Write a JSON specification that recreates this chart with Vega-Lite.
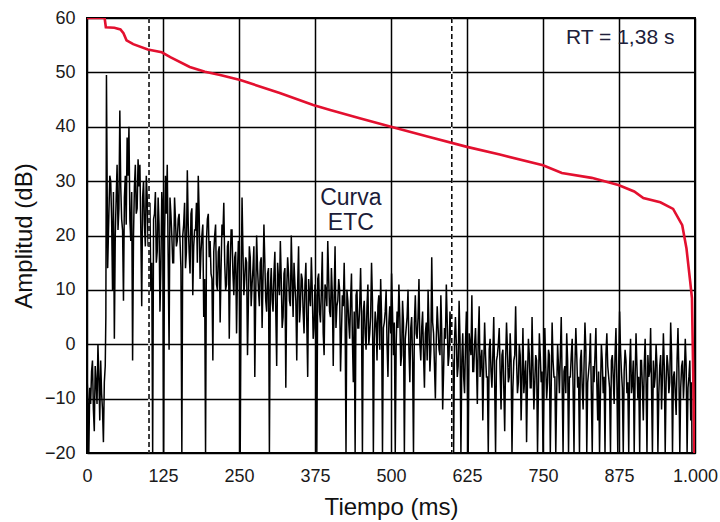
{
  "$schema": "https://vega.github.io/schema/vega-lite/v6.json",
  "width": 608,
  "height": 435,
  "autosize": {"type": "none"},
  "padding": {"left": 87, "top": 18, "right": 25, "bottom": 69},
  "background": "white",
  "config": {
    "view": {"stroke": "#000", "strokeWidth": 2},
    "font": "Liberation Sans",
    "axis": {"gridColor": "#000", "gridWidth": 1.5, "gridOpacity": 1, "ticks": false, "domain": false, "labelFont": "Liberation Sans", "titleFont": "Liberation Sans", "titleFontWeight": "normal", "labelColor": "#1a1a1a", "titleColor": "#111"}
  },
  "datasets": {
    "etc": [
      {"t":0,"a":-6},{"t":3,"a":-20},{"t":6,"a":-11},{"t":9,"a":-3},{"t":12,"a":-16},{"t":15,"a":-7},{"t":18,"a":0},{"t":21,"a":-14},{"t":24,"a":-9},{"t":27,"a":-18},{"t":30,"a":-4},{"t":31,"a":5},{"t":32,"a":49.5},{"t":34,"a":14},{"t":36,"a":24},
      {"t":39,"a":30},{"t":42,"a":10},{"t":45,"a":1},{"t":48,"a":27},{"t":51,"a":21},{"t":54,"a":43},{"t":57,"a":23},{"t":60,"a":8},{"t":63,"a":31},{"t":66,"a":38},{"t":69,"a":40},{"t":72,"a":19},{"t":75,"a":-3},{"t":78,"a":29},{"t":81,"a":24},{"t":84,"a":34},{"t":87,"a":33},{"t":90,"a":7},{"t":93,"a":30},{"t":96,"a":18},{"t":99,"a":27},
      {"t":102,"a":22},{"t":105,"a":10},{"t":108,"a":-20},{"t":111,"a":24},{"t":114,"a":15},{"t":117,"a":27},{"t":120,"a":6},{"t":123,"a":28},{"t":126,"a":-20},{"t":129,"a":31},{"t":132,"a":33},{"t":135,"a":-1},{"t":138,"a":24},{"t":141,"a":15},{"t":144,"a":27},{"t":147,"a":18},{"t":150,"a":23},
      {"t":153,"a":19},{"t":156,"a":-20},{"t":159,"a":22},{"t":162,"a":14},{"t":165,"a":32},{"t":168,"a":17},{"t":171,"a":24},{"t":174,"a":9},{"t":177,"a":21},{"t":180,"a":26},{"t":183,"a":31},{"t":186,"a":12},{"t":189,"a":20},{"t":192,"a":5},{"t":195,"a":-20},{"t":198,"a":23},{"t":201,"a":16},
      {"t":204,"a":13},{"t":207,"a":-3},{"t":210,"a":20},{"t":213,"a":11},{"t":216,"a":17},{"t":219,"a":4},{"t":222,"a":22},{"t":225,"a":26},{"t":228,"a":10},{"t":231,"a":18},{"t":234,"a":1},{"t":237,"a":21},{"t":240,"a":13},{"t":243,"a":16},{"t":246,"a":2},{"t":249,"a":19},{"t":252,"a":-20},
      {"t":255,"a":27},{"t":258,"a":9},{"t":261,"a":16},{"t":264,"a":-2},{"t":267,"a":18},{"t":270,"a":7},{"t":273,"a":14},{"t":276,"a":-6},{"t":279,"a":20},{"t":282,"a":10},{"t":285,"a":15},{"t":288,"a":3},{"t":291,"a":22},{"t":294,"a":8},{"t":297,"a":13},{"t":300,"a":-20},
      {"t":303,"a":14},{"t":306,"a":6},{"t":309,"a":17},{"t":312,"a":-4},{"t":315,"a":12},{"t":318,"a":19},{"t":321,"a":3},{"t":324,"a":13},{"t":327,"a":-8},{"t":330,"a":16},{"t":333,"a":8},{"t":336,"a":20},{"t":339,"a":5},{"t":342,"a":11},{"t":345,"a":-3},{"t":348,"a":18},{"t":351,"a":7},
      {"t":354,"a":12},{"t":357,"a":2},{"t":360,"a":15},{"t":363,"a":-6},{"t":366,"a":9},{"t":369,"a":16},{"t":372,"a":1},{"t":375,"a":11},{"t":378,"a":-20},{"t":381,"a":13},{"t":384,"a":4},{"t":387,"a":17},{"t":390,"a":-2},{"t":393,"a":10},{"t":396,"a":19},{"t":399,"a":6},{"t":402,"a":14},
      {"t":405,"a":-4},{"t":408,"a":18},{"t":411,"a":7},{"t":414,"a":12},{"t":417,"a":-5},{"t":420,"a":9},{"t":423,"a":15},{"t":426,"a":-20},{"t":429,"a":8},{"t":432,"a":1},{"t":435,"a":13},{"t":438,"a":-7},{"t":441,"a":-20},{"t":444,"a":10},{"t":447,"a":3},{"t":450,"a":14},
      {"t":453,"a":-20},{"t":456,"a":8},{"t":459,"a":-1},{"t":462,"a":11},{"t":465,"a":2},{"t":468,"a":15},{"t":471,"a":-20},{"t":474,"a":6},{"t":477,"a":-3},{"t":480,"a":9},{"t":483,"a":12},{"t":486,"a":-20},{"t":489,"a":4},{"t":492,"a":10},{"t":495,"a":-6},{"t":498,"a":7},{"t":501,"a":13},
      {"t":504,"a":-2},{"t":507,"a":-20},{"t":510,"a":6},{"t":513,"a":11},{"t":516,"a":-4},{"t":519,"a":8},{"t":522,"a":-20},{"t":525,"a":3},{"t":528,"a":10},{"t":531,"a":-7},{"t":534,"a":5},{"t":537,"a":-20},{"t":540,"a":9},{"t":543,"a":1},{"t":546,"a":12},{"t":549,"a":-3},{"t":552,"a":6},
      {"t":555,"a":-8},{"t":558,"a":4},{"t":561,"a":10},{"t":564,"a":-5},{"t":567,"a":16},{"t":570,"a":2},{"t":573,"a":-10},{"t":576,"a":7},{"t":579,"a":-1},{"t":582,"a":9},{"t":585,"a":-12},{"t":588,"a":3},{"t":591,"a":11},{"t":594,"a":-4},{"t":597,"a":6},{"t":600,"a":-2},{"t":603,"a":-20},
      {"t":606,"a":5},{"t":609,"a":-6},{"t":612,"a":8},{"t":615,"a":-20},{"t":618,"a":2},{"t":621,"a":-9},{"t":624,"a":6},{"t":627,"a":-20},{"t":630,"a":0},{"t":633,"a":9},{"t":636,"a":-5},{"t":639,"a":3},{"t":642,"a":-11},{"t":645,"a":7},{"t":648,"a":-3},{"t":651,"a":-14},
      {"t":654,"a":4},{"t":657,"a":-6},{"t":660,"a":-20},{"t":663,"a":1},{"t":666,"a":-8},{"t":669,"a":5},{"t":672,"a":-20},{"t":675,"a":-2},{"t":678,"a":3},{"t":681,"a":-12},{"t":684,"a":-1},{"t":687,"a":-16},{"t":690,"a":4},{"t":693,"a":-7},{"t":696,"a":2},{"t":699,"a":-20},{"t":702,"a":-3},
      {"t":705,"a":7},{"t":708,"a":-9},{"t":711,"a":0},{"t":714,"a":-14},{"t":717,"a":3},{"t":720,"a":-6},{"t":723,"a":-18},{"t":726,"a":1},{"t":729,"a":-8},{"t":732,"a":5},{"t":735,"a":-12},{"t":738,"a":-2},{"t":741,"a":-20},{"t":744,"a":2},{"t":747,"a":-7},{"t":750,"a":-20},
      {"t":753,"a":3},{"t":756,"a":-10},{"t":759,"a":-1},{"t":762,"a":-20},{"t":765,"a":4},{"t":768,"a":-6},{"t":771,"a":-20},{"t":774,"a":0},{"t":777,"a":-9},{"t":780,"a":5},{"t":783,"a":-20},{"t":786,"a":-4},{"t":789,"a":2},{"t":792,"a":-20},{"t":795,"a":-6},{"t":798,"a":1},{"t":801,"a":-20},
      {"t":804,"a":3},{"t":807,"a":-8},{"t":810,"a":-20},{"t":813,"a":-1},{"t":816,"a":-12},{"t":819,"a":4},{"t":822,"a":-20},{"t":825,"a":-5},{"t":828,"a":2},{"t":831,"a":-20},{"t":834,"a":-7},{"t":837,"a":3},{"t":840,"a":-14},{"t":843,"a":-20},{"t":846,"a":0},{"t":849,"a":-9},{"t":852,"a":-20},
      {"t":855,"a":2},{"t":858,"a":-6},{"t":861,"a":-20},{"t":864,"a":-2},{"t":867,"a":-11},{"t":870,"a":3},{"t":873,"a":-20},{"t":876,"a":6},{"t":879,"a":-5},{"t":882,"a":-20},{"t":885,"a":-1},{"t":888,"a":-9},{"t":891,"a":-20},{"t":894,"a":1},{"t":897,"a":-7},{"t":900,"a":-20},{"t":903,"a":2},
      {"t":906,"a":-10},{"t":909,"a":-20},{"t":912,"a":-3},{"t":915,"a":-14},{"t":918,"a":1},{"t":921,"a":-20},{"t":924,"a":-6},{"t":927,"a":3},{"t":930,"a":-20},{"t":933,"a":-8},{"t":936,"a":0},{"t":939,"a":-20},{"t":942,"a":-4},{"t":945,"a":-12},{"t":948,"a":2},{"t":951,"a":-20},
      {"t":954,"a":-2},{"t":957,"a":-9},{"t":960,"a":4},{"t":963,"a":-20},{"t":966,"a":-5},{"t":969,"a":-13},{"t":972,"a":3},{"t":975,"a":-20},{"t":978,"a":-4},{"t":981,"a":-10},{"t":984,"a":1},{"t":987,"a":-20},{"t":990,"a":-6},{"t":993,"a":-14},{"t":995,"a":-20},
      {"t":1.5,"a":-10},{"t":4.5,"a":-8},{"t":7.5,"a":-5},{"t":10.5,"a":-12},{"t":13.5,"a":-4},{"t":16.5,"a":-11},{"t":19.5,"a":-6},{"t":22.5,"a":-3},{"t":25.5,"a":-12},{"t":28.5,"a":-7},
      {"t":37.5,"a":31},{"t":40.5,"a":23},{"t":43.5,"a":28},{"t":46.5,"a":20},{"t":49.5,"a":33},{"t":52.5,"a":25},{"t":55.5,"a":29},{"t":58.5,"a":21},{"t":61.5,"a":27},{"t":64.5,"a":22},{"t":67.5,"a":31},{"t":70.5,"a":23},{"t":73.5,"a":28},{"t":76.5,"a":20},{"t":79.5,"a":33},{"t":82.5,"a":25},{"t":85.5,"a":29},{"t":88.5,"a":21},{"t":91.5,"a":27},{"t":94.5,"a":22},{"t":97.5,"a":31},
      {"t":100.5,"a":18},{"t":103.5,"a":26},{"t":106.5,"a":15},{"t":109.5,"a":23},{"t":112.5,"a":28},{"t":115.5,"a":17},{"t":118.5,"a":22},{"t":121.5,"a":14},{"t":124.5,"a":25},{"t":127.5,"a":19},{"t":130.5,"a":24},{"t":133.5,"a":16},{"t":136.5,"a":27},{"t":139.5,"a":20},{"t":142.5,"a":15},{"t":145.5,"a":23},{"t":148.5,"a":19},
      {"t":151.5,"a":24},{"t":154.5,"a":14},{"t":157.5,"a":20},{"t":160.5,"a":26},{"t":163.5,"a":17},{"t":166.5,"a":22},{"t":169.5,"a":13},{"t":172.5,"a":25},{"t":175.5,"a":18},{"t":178.5,"a":21},{"t":181.5,"a":15},{"t":184.5,"a":24},{"t":187.5,"a":17},{"t":190.5,"a":22},{"t":193.5,"a":12},{"t":196.5,"a":19},{"t":199.5,"a":24},
      {"t":202.5,"a":19},{"t":205.5,"a":12},{"t":208.5,"a":17},{"t":211.5,"a":22},{"t":214.5,"a":10},{"t":217.5,"a":18},{"t":220.5,"a":14},{"t":223.5,"a":20},{"t":226.5,"a":15},{"t":229.5,"a":11},{"t":232.5,"a":19},{"t":235.5,"a":14},{"t":238.5,"a":21},{"t":241.5,"a":9},{"t":244.5,"a":17},{"t":247.5,"a":13},{"t":250.5,"a":18},
      {"t":253.5,"a":10},{"t":256.5,"a":17},{"t":259.5,"a":12},{"t":262.5,"a":15},{"t":265.5,"a":8},{"t":268.5,"a":16},{"t":271.5,"a":11},{"t":274.5,"a":18},{"t":277.5,"a":9},{"t":280.5,"a":14},{"t":283.5,"a":7},{"t":286.5,"a":16},{"t":289.5,"a":12},{"t":292.5,"a":15},{"t":295.5,"a":6},{"t":298.5,"a":14},{"t":301.5,"a":10},
      {"t":304.5,"a":8},{"t":307.5,"a":13},{"t":310.5,"a":6},{"t":313.5,"a":15},{"t":316.5,"a":9},{"t":319.5,"a":12},{"t":322.5,"a":5},{"t":325.5,"a":14},{"t":328.5,"a":10},{"t":331.5,"a":13},{"t":334.5,"a":7},{"t":337.5,"a":12},{"t":340.5,"a":15},{"t":343.5,"a":8},{"t":346.5,"a":11},{"t":349.5,"a":4},{"t":352.5,"a":13},
      {"t":355.5,"a":6},{"t":358.5,"a":11},{"t":361.5,"a":4},{"t":364.5,"a":12},{"t":367.5,"a":7},{"t":370.5,"a":10},{"t":373.5,"a":3},{"t":376.5,"a":9},{"t":379.5,"a":12},{"t":382.5,"a":6},{"t":385.5,"a":10},{"t":388.5,"a":2},{"t":391.5,"a":11},{"t":394.5,"a":7},{"t":397.5,"a":12},{"t":400.5,"a":5},{"t":403.5,"a":9},
      {"t":406.5,"a":9},{"t":409.5,"a":3},{"t":412.5,"a":8},{"t":415.5,"a":10},{"t":418.5,"a":2},{"t":421.5,"a":7},{"t":424.5,"a":5},{"t":427.5,"a":10},{"t":430.5,"a":4},{"t":433.5,"a":8},{"t":436.5,"a":1},{"t":439.5,"a":6},{"t":442.5,"a":9},{"t":445.5,"a":3},{"t":448.5,"a":7},{"t":451.5,"a":5},
      {"t":454.5,"a":6},{"t":457.5,"a":2},{"t":460.5,"a":7},{"t":463.5,"a":0},{"t":466.5,"a":5},{"t":469.5,"a":8},{"t":472.5,"a":1},{"t":475.5,"a":4},{"t":478.5,"a":7},{"t":481.5,"a":-1},{"t":484.5,"a":5},{"t":487.5,"a":3},{"t":490.5,"a":6},{"t":493.5,"a":0},{"t":496.5,"a":4},{"t":499.5,"a":2},{"t":502.5,"a":6},
      {"t":505.5,"a":4},{"t":508.5,"a":0},{"t":511.5,"a":3},{"t":514.5,"a":5},{"t":517.5,"a":-2},{"t":520.5,"a":4},{"t":523.5,"a":1},{"t":526.5,"a":5},{"t":529.5,"a":-1},{"t":532.5,"a":3},{"t":535.5,"a":-3},{"t":538.5,"a":4},{"t":541.5,"a":2},{"t":544.5,"a":5},{"t":547.5,"a":0},{"t":550.5,"a":3},{"t":553.5,"a":-2},
      {"t":556.5,"a":2},{"t":559.5,"a":-3},{"t":562.5,"a":3},{"t":565.5,"a":-1},{"t":568.5,"a":4},{"t":571.5,"a":-4},{"t":574.5,"a":1},{"t":577.5,"a":3},{"t":580.5,"a":-2},{"t":583.5,"a":2},{"t":586.5,"a":-5},{"t":589.5,"a":1},{"t":592.5,"a":4},{"t":595.5,"a":-2},{"t":598.5,"a":2},{"t":601.5,"a":-3},{"t":604.5,"a":1},
      {"t":607.5,"a":0},{"t":610.5,"a":-4},{"t":613.5,"a":1},{"t":616.5,"a":-3},{"t":619.5,"a":-6},{"t":622.5,"a":0},{"t":625.5,"a":-4},{"t":628.5,"a":2},{"t":631.5,"a":-2},{"t":634.5,"a":-5},{"t":637.5,"a":0},{"t":640.5,"a":-3},{"t":643.5,"a":1},{"t":646.5,"a":-6},{"t":649.5,"a":-1},{"t":652.5,"a":-4},
      {"t":655.5,"a":-2},{"t":658.5,"a":-6},{"t":661.5,"a":-1},{"t":664.5,"a":-5},{"t":667.5,"a":-2},{"t":670.5,"a":-7},{"t":673.5,"a":-3},{"t":676.5,"a":0},{"t":679.5,"a":-5},{"t":682.5,"a":-2},{"t":685.5,"a":-8},{"t":688.5,"a":-3},{"t":691.5,"a":-1},{"t":694.5,"a":-6},{"t":697.5,"a":-3},{"t":700.5,"a":-8},{"t":703.5,"a":-2},
      {"t":706.5,"a":-3},{"t":709.5,"a":-7},{"t":712.5,"a":-2},{"t":715.5,"a":-6},{"t":718.5,"a":-9},{"t":721.5,"a":-3},{"t":724.5,"a":-6},{"t":727.5,"a":-2},{"t":730.5,"a":-8},{"t":733.5,"a":-4},{"t":736.5,"a":-7},{"t":739.5,"a":-3},{"t":742.5,"a":-8},{"t":745.5,"a":-2},{"t":748.5,"a":-5},{"t":751.5,"a":-9},
      {"t":754.5,"a":-4},{"t":757.5,"a":-7},{"t":760.5,"a":-2},{"t":763.5,"a":-8},{"t":766.5,"a":-3},{"t":769.5,"a":-6},{"t":772.5,"a":-9},{"t":775.5,"a":-4},{"t":778.5,"a":-2},{"t":781.5,"a":-7},{"t":784.5,"a":-5},{"t":787.5,"a":-9},{"t":790.5,"a":-3},{"t":793.5,"a":-6},{"t":796.5,"a":-2},{"t":799.5,"a":-8},{"t":802.5,"a":-4},
      {"t":805.5,"a":-2},{"t":808.5,"a":-6},{"t":811.5,"a":-3},{"t":814.5,"a":-8},{"t":817.5,"a":-4},{"t":820.5,"a":-1},{"t":823.5,"a":-7},{"t":826.5,"a":-3},{"t":829.5,"a":-9},{"t":832.5,"a":-4},{"t":835.5,"a":-2},{"t":838.5,"a":-7},{"t":841.5,"a":-5},{"t":844.5,"a":-9},{"t":847.5,"a":-3},{"t":850.5,"a":-6},{"t":853.5,"a":-2},
      {"t":856.5,"a":-4},{"t":859.5,"a":-8},{"t":862.5,"a":-3},{"t":865.5,"a":-6},{"t":868.5,"a":-2},{"t":871.5,"a":-7},{"t":874.5,"a":-4},{"t":877.5,"a":-1},{"t":880.5,"a":-8},{"t":883.5,"a":-5},{"t":886.5,"a":-3},{"t":889.5,"a":-7},{"t":892.5,"a":-4},{"t":895.5,"a":-9},{"t":898.5,"a":-3},{"t":901.5,"a":-6},{"t":904.5,"a":-4},
      {"t":907.5,"a":-6},{"t":910.5,"a":-3},{"t":913.5,"a":-8},{"t":916.5,"a":-4},{"t":919.5,"a":-7},{"t":922.5,"a":-2},{"t":925.5,"a":-5},{"t":928.5,"a":-8},{"t":931.5,"a":-3},{"t":934.5,"a":-6},{"t":937.5,"a":-4},{"t":940.5,"a":-9},{"t":943.5,"a":-2},{"t":946.5,"a":-6},{"t":949.5,"a":-4},{"t":952.5,"a":-7},
      {"t":955.5,"a":-4},{"t":958.5,"a":-7},{"t":961.5,"a":-2},{"t":964.5,"a":-6},{"t":967.5,"a":-9},{"t":970.5,"a":-3},{"t":973.5,"a":-5},{"t":976.5,"a":-8},{"t":979.5,"a":-3},{"t":982.5,"a":-6},{"t":985.5,"a":-4},{"t":988.5,"a":-8},{"t":991.5,"a":-3},{"t":994.5,"a":-7}
    ],
    "decay": [
      {"t":0,"a":60},{"t":29,"a":60},{"t":31,"a":58.3},{"t":45,"a":58.2},{"t":55,"a":57.9},{"t":60,"a":57.2},{"t":65,"a":55.9},{"t":76,"a":55.2},{"t":100,"a":54.2},{"t":123,"a":53.7},{"t":137,"a":52.8},{"t":169,"a":51.0},{"t":194,"a":50.1},{"t":219,"a":49.5},{"t":252,"a":48.6},{"t":317,"a":46.2},{"t":372,"a":44.0},{"t":400,"a":43.1},{"t":450,"a":41.5},{"t":500,"a":40.0},{"t":560,"a":38.2},{"t":625,"a":36.3},{"t":679,"a":34.9},{"t":750,"a":32.9},{"t":781,"a":31.5},{"t":830,"a":30.6},{"t":874,"a":29.3},{"t":900,"a":28.1},{"t":915,"a":26.9},{"t":943,"a":26.1},{"t":964,"a":24.9},{"t":979,"a":21.9},{"t":986,"a":17.6},{"t":992,"a":11.6},{"t":995,"a":8.5},{"t":997,"a":-5},{"t":999,"a":-20}
    ],
    "dashpos": [{"t":102},{"t":600}],
    "rt": [{"t":877,"a":56.4,"label":"RT = 1,38 s"}],
    "etclabel": [{"t":434,"a":26.9,"label":"Curva"},{"t":434,"a":22.3,"label":"ETC"}]
  },
  "layer": [
    {"data": {"name": "etc"}, "mark": {"type": "line", "color": "#000", "strokeWidth": 1.5, "clip": true},
      "encoding": {
        "x": {"field": "t", "type": "quantitative", "scale": {"domain": [0, 1000], "nice": false, "zero": false},
          "axis": {"values": [0,125,250,375,500,625,750,875,1000], "labelExpr": "datum.value === 1000 ? '1.000' : datum.label", "labelFontSize": 18, "labelPadding": 14, "title": "Tiempo (ms)", "titleFontSize": 24, "titlePadding": 10, "grid": true, "labelFlush": false}},
        "y": {"field": "a", "type": "quantitative", "scale": {"domain": [-20, 60], "nice": false, "zero": false},
          "axis": {"values": [-20,-10,0,10,20,30,40,50,60], "labelFontSize": 18, "labelPadding": 12, "title": "Amplitud (dB)", "titleFontSize": 24, "titlePadding": 8, "grid": true, "labelFlush": false}}
      }},
    {"data": {"name": "dashpos"}, "mark": {"type": "rule", "color": "#fff", "strokeWidth": 1.5},
      "encoding": {"x": {"field": "t", "type": "quantitative"}}},
    {"data": {"name": "dashpos"}, "mark": {"type": "rule", "color": "#000", "strokeWidth": 1.5, "strokeDash": [5, 3]},
      "encoding": {"x": {"field": "t", "type": "quantitative"}}},
    {"data": {"name": "decay"}, "mark": {"type": "line", "color": "#e3102f", "strokeWidth": 2.6, "clip": true},
      "encoding": {"x": {"field": "t", "type": "quantitative"}, "y": {"field": "a", "type": "quantitative"}}},
    {"data": {"name": "rt"}, "mark": {"type": "text", "fontSize": 21, "align": "center", "baseline": "middle", "color": "#20203a", "font": "Liberation Sans"},
      "encoding": {"x": {"field": "t", "type": "quantitative"}, "y": {"field": "a", "type": "quantitative"}, "text": {"field": "label"}}},
    {"data": {"name": "etclabel"}, "mark": {"type": "text", "fontSize": 23, "align": "center", "baseline": "middle", "color": "#1c1c38", "font": "Liberation Sans"},
      "encoding": {"x": {"field": "t", "type": "quantitative"}, "y": {"field": "a", "type": "quantitative"}, "text": {"field": "label"}}}
  ]
}
